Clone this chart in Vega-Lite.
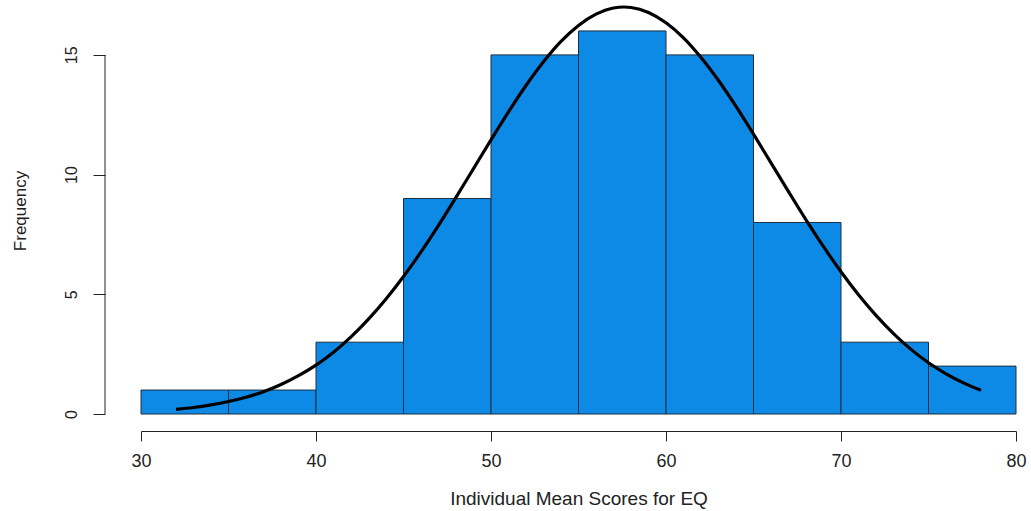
{
  "$schema": "https://vega.github.io/schema/vega-lite/v6.json",
  "autosize": {"type": "none"},
  "width": 875,
  "height": 407,
  "padding": {"left": 141, "top": 7, "right": 15, "bottom": 97},
  "background": "white",
  "config": {
    "view": {"stroke": null},
    "font": "Liberation Sans",
    "axis": {"grid": false, "labelFlush": false, "labelOverlap": false, "domainColor": "#222", "tickColor": "#222", "labelColor": "#222", "titleColor": "#222", "labelFont": "Liberation Sans", "titleFont": "Liberation Sans", "titleFontWeight": "normal", "domainWidth": 1, "tickWidth": 1}
  },
  "datasets": {
    "bins": [
      {"bin_start": 30, "bin_end": 35, "count": 1},
      {"bin_start": 35, "bin_end": 40, "count": 1},
      {"bin_start": 40, "bin_end": 45, "count": 3},
      {"bin_start": 45, "bin_end": 50, "count": 9},
      {"bin_start": 50, "bin_end": 55, "count": 15},
      {"bin_start": 55, "bin_end": 60, "count": 16},
      {"bin_start": 60, "bin_end": 65, "count": 15},
      {"bin_start": 65, "bin_end": 70, "count": 8},
      {"bin_start": 70, "bin_end": 75, "count": 3},
      {"bin_start": 75, "bin_end": 80, "count": 2}
    ],
    "curve": [
      {"score": 32, "freq": 0.19}, {"score": 33, "freq": 0.27}, {"score": 34, "freq": 0.38},
      {"score": 35, "freq": 0.52}, {"score": 36, "freq": 0.70}, {"score": 37, "freq": 0.93},
      {"score": 38, "freq": 1.23}, {"score": 39, "freq": 1.60}, {"score": 40, "freq": 2.04},
      {"score": 41, "freq": 2.58}, {"score": 42, "freq": 3.22}, {"score": 43, "freq": 3.96},
      {"score": 44, "freq": 4.80}, {"score": 45, "freq": 5.74}, {"score": 46, "freq": 6.77},
      {"score": 47, "freq": 7.88}, {"score": 48, "freq": 9.05}, {"score": 49, "freq": 10.25},
      {"score": 50, "freq": 11.45}, {"score": 51, "freq": 12.62}, {"score": 52, "freq": 13.72},
      {"score": 53, "freq": 14.71}, {"score": 54, "freq": 15.56}, {"score": 55, "freq": 16.23},
      {"score": 56, "freq": 16.70}, {"score": 57, "freq": 16.96}, {"score": 57.6, "freq": 17.0}, {"score": 58, "freq": 16.98},
      {"score": 59, "freq": 16.77}, {"score": 60, "freq": 16.34}, {"score": 61, "freq": 15.71},
      {"score": 62, "freq": 14.89}, {"score": 63, "freq": 13.93}, {"score": 64, "freq": 12.85},
      {"score": 65, "freq": 11.69}, {"score": 66, "freq": 10.49}, {"score": 67, "freq": 9.29},
      {"score": 68, "freq": 8.11}, {"score": 69, "freq": 6.99}, {"score": 70, "freq": 5.94},
      {"score": 71, "freq": 4.98}, {"score": 72, "freq": 4.12}, {"score": 73, "freq": 3.36},
      {"score": 74, "freq": 2.70}, {"score": 75, "freq": 2.14}, {"score": 76, "freq": 1.68},
      {"score": 77, "freq": 1.30}, {"score": 78, "freq": 0.99}
    ]
  },
  "layer": [
    {
      "data": {"name": "bins"},
      "mark": {"type": "rect", "fill": "#0c8ae6", "stroke": "#1c2f40", "strokeWidth": 1},
      "encoding": {
        "x": {"field": "bin_start", "type": "quantitative",
              "scale": {"domain": [30, 80], "nice": false, "zero": false},
              "axis": {"values": [30, 40, 50, 60, 70, 80], "offset": 17, "tickSize": 10, "labelFontSize": 18, "labelPadding": 11,
                       "title": "Individual Mean Scores for EQ", "titleFontSize": 19, "titlePadding": 19}},
        "x2": {"field": "bin_end"},
        "y": {"field": "count", "type": "quantitative",
              "scale": {"domain": [0, 17], "nice": false},
              "axis": {"values": [0, 5, 10, 15], "offset": 36, "tickSize": 12, "domain": false, "labelAngle": -90, "labelFontSize": 16, "labelPadding": 14,
                       "title": "Frequency", "titleFontSize": 17, "titlePadding": 34}},
        "y2": {"datum": 0}
      }
    },
    {
      "data": {"name": "curve"},
      "mark": {"type": "line", "color": "black", "strokeWidth": 3.2, "interpolate": "monotone"},
      "encoding": {
        "x": {"field": "score", "type": "quantitative"},
        "y": {"field": "freq", "type": "quantitative"}
      }
    },
    {
      "data": {"values": [{}]},
      "mark": {"type": "rule", "color": "#222", "strokeWidth": 1, "xOffset": -36},
      "encoding": {
        "x": {"datum": 30},
        "y": {"datum": 0},
        "y2": {"datum": 15}
      }
    }
  ]
}
